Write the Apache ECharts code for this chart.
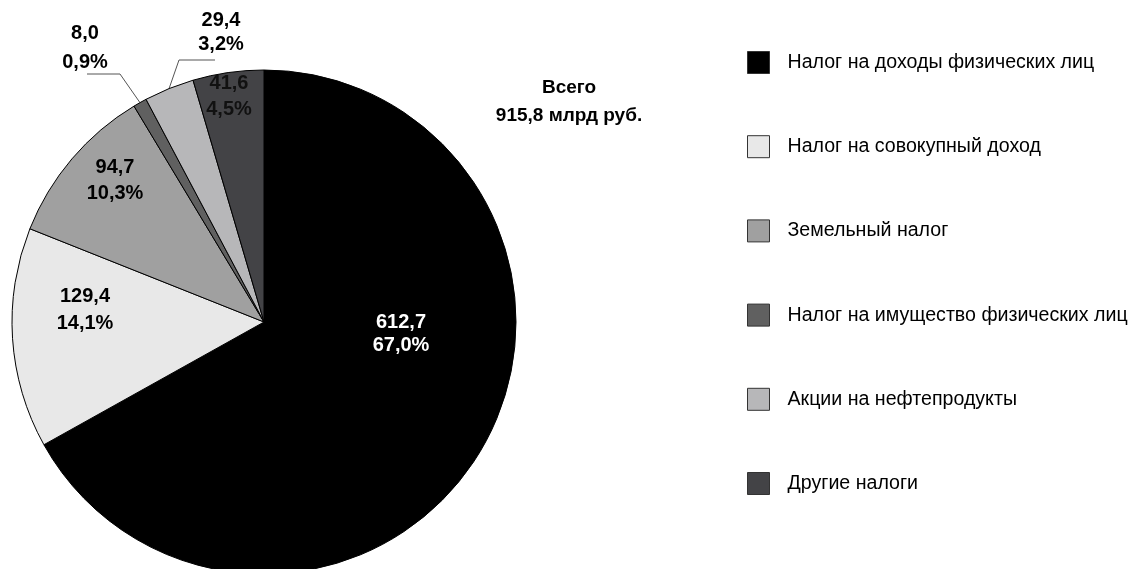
<!DOCTYPE html>
<html>
<head>
<meta charset="utf-8">
<script src="https://cdn.jsdelivr.net/npm/echarts@6/dist/echarts.min.js"></script>
<style>html,body{margin:0;padding:0;background:#fff;}#c{width:1134px;height:569px;}</style>
</head>
<body>
<div id="c"></div>
<script>
const categories = ['Налог на доходы физических лиц','Налог на совокупный доход','Земельный налог','Налог на имущество физических лиц','Акции на нефтепродукты','Другие налоги'];
const values = [612.7, 129.4, 94.7, 8.0, 29.4, 41.6];
const shares = [67.0, 14.1, 10.3, 0.9, 3.2, 4.5];
const colors = ['#000000','#e8e8e8','#a0a0a0','#606060','#b7b7b9','#434346'];

const fmt = v => v.toFixed(1).replace('.', ',');
const total = values.reduce((a,b)=>a+b,0);

// label placement (style only)
const labelSpots = [
  {x:401, y:334, color:'#fff', lh:23, pos:'inside'},
  {x:85, y:310, color:'#000', lh:27, pos:'inside'},
  {x:115, y:180, color:'#000', lh:26, pos:'inside'},
  {x:85, y:48, color:'#000', lh:29, pos:'outside', bend:[120,74], end:[87,74]},
  {x:221, y:32, color:'#000', lh:24, pos:'outside', bend:[179,60], end:[215,60]},
  {x:229, y:96, color:'#111', lh:26, pos:'inside'}
];

const chart = echarts.init(document.getElementById('c'), null, {renderer:'canvas'});
const data = categories.map((name,i)=>({
  name, value: values[i],
  itemStyle:{color: colors[i]},
  label:{position: labelSpots[i].pos, color: labelSpots[i].color, lineHeight: labelSpots[i].lh},
  labelLine:{show: labelSpots[i].pos === 'outside', lineStyle:{color:'#555', width:1}}
}));

chart.setOption({
  animation:false,
  backgroundColor:'#fff',
  legend:{
    orient:'vertical', left:747, top:51, padding:0,
    itemWidth:22, itemHeight:22, itemGap:61.2,
    icon:'rect',
    itemStyle:{borderColor:'#333', borderWidth:1},
    textStyle:{fontFamily:'Liberation Sans, Arial', fontSize:19.6, color:'#000', padding:[0,0,0,13]},
    data: categories
  },
  graphic:[{
    type:'text', x:569, y:102,
    style:{text:'Всего\n' + fmt(total) + ' млрд руб.', textAlign:'center', textVerticalAlign:'middle',
      font:'bold 19px "Liberation Sans", Arial', fill:'#000', lineHeight:28}
  }],
  series:[{
    type:'pie',
    center:[264,322],
    radius:252,
    startAngle:90,
    clockwise:true,
    avoidLabelOverlap:false,
    itemStyle:{borderColor:'#000', borderWidth:1},
    emphasis:{disabled:true},
    label:{
      show:true,
      fontFamily:'Liberation Sans, Arial', fontSize:20, fontWeight:'bold',
      formatter: p => fmt(values[p.dataIndex]) + '\n' + fmt(shares[p.dataIndex]) + '%'
    },
    labelLayout: p => {
      const s = labelSpots[p.dataIndex];
      const out = {x:s.x, y:s.y, align:'center', verticalAlign:'middle'};
      if (s.pos === 'outside' && p.labelLinePoints) {
        out.labelLinePoints = [p.labelLinePoints[0], s.bend, s.end];
      }
      return out;
    },
    data
  }]
});
</script>
</body>
</html>
